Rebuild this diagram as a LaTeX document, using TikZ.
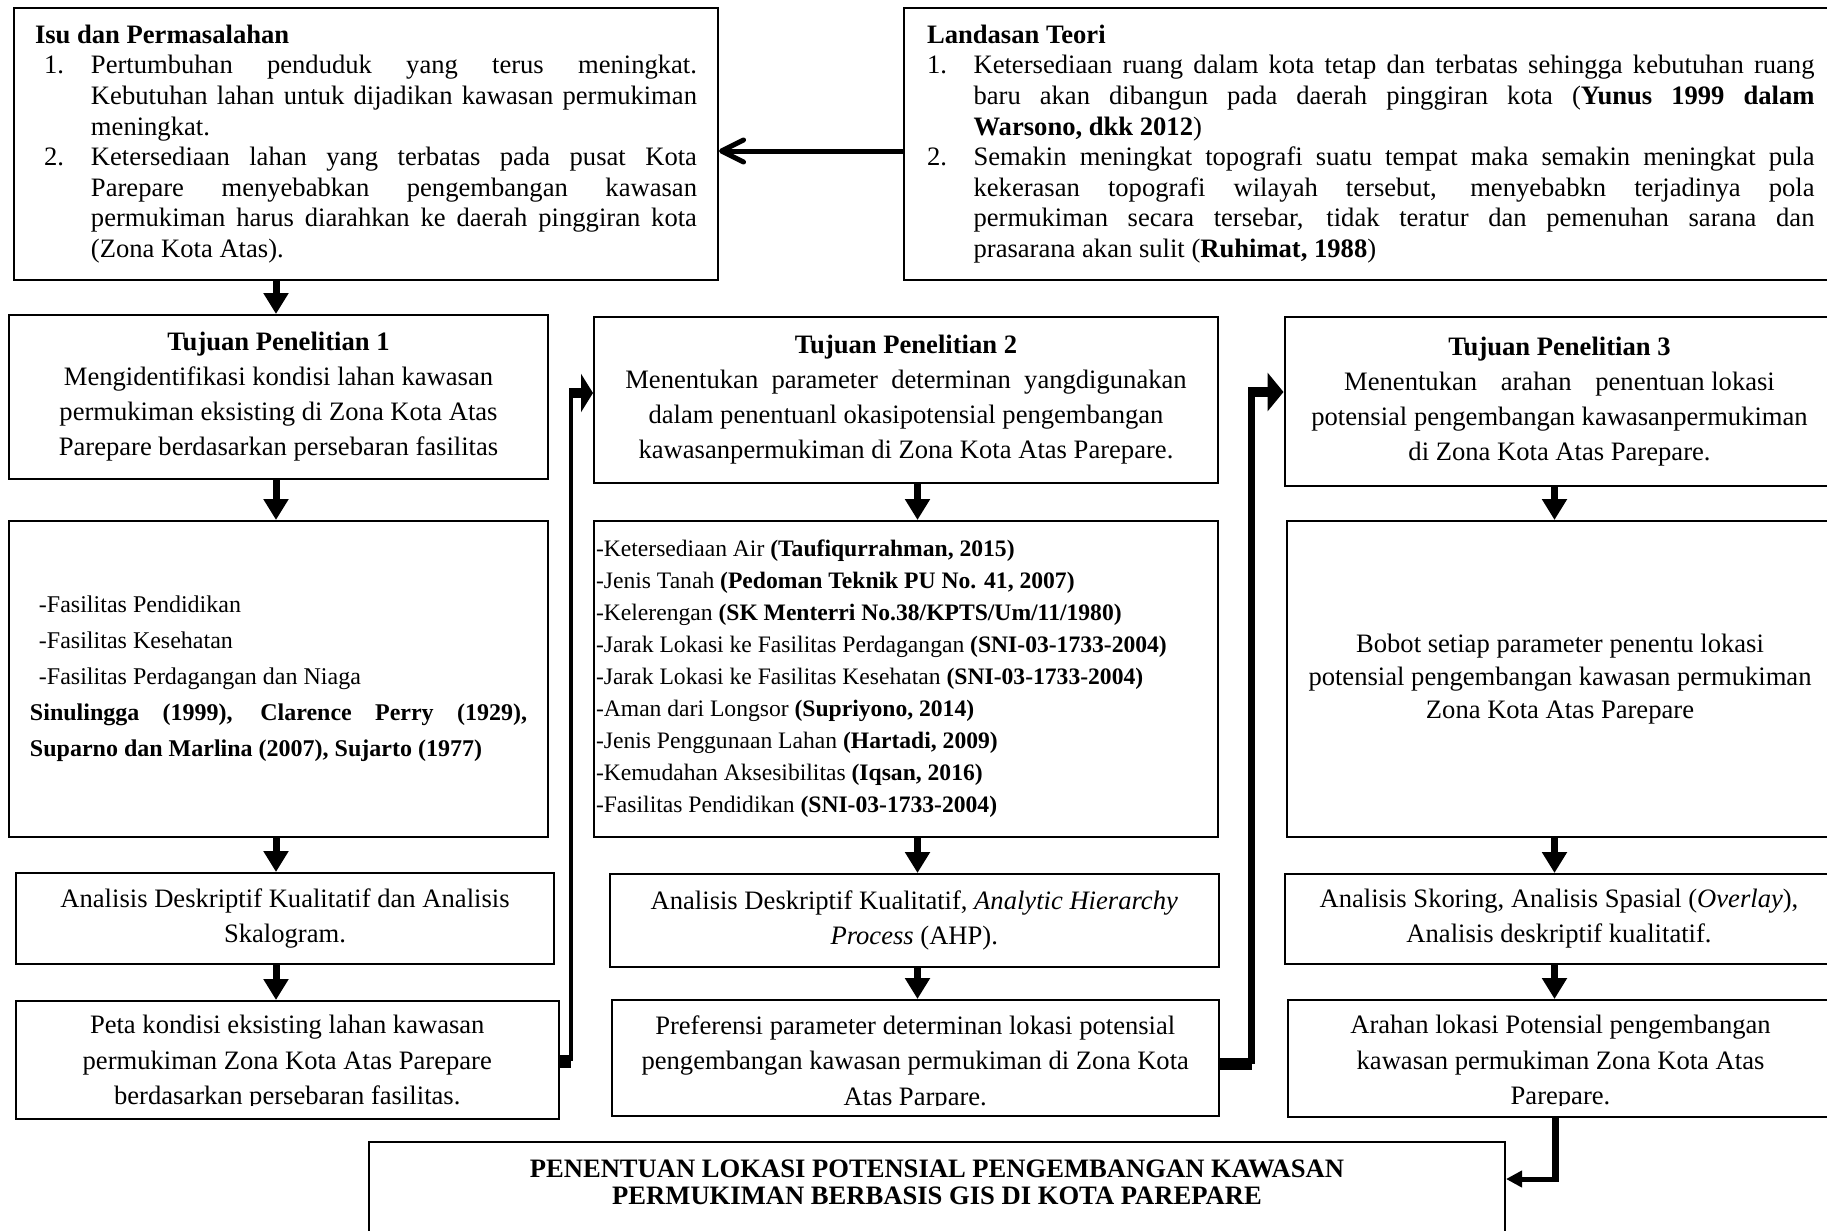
\documentclass[tikz,border=0pt]{standalone}
\usepackage{fontspec}
\setmainfont{Liberation Serif}
\usetikzlibrary{arrows.meta}
\tolerance=10000 \hbadness=10000 \hyphenpenalty=10000 \exhyphenpenalty=10000
\setlength{\parindent}{0pt}
\setlength{\parskip}{0pt}
\newlength{\numind}
\newlength{\numoff}
\newcommand{\numitem}[2]{\par\noindent\hangindent=\numind\hangafter=1\makebox[\numind][l]{\hspace*{\numoff}#1}#2\par}
\newcommand{\fbody}{\fontsize{13.3pt}{17.5pt}\selectfont}
\newcommand{\fres}{\fontsize{13.3pt}{17.75pt}\selectfont}
\newcommand{\flist}{\fontsize{13.3pt}{15.3pt}\selectfont}
\newcommand{\ffas}{\fontsize{12pt}{18pt}\selectfont}
\newcommand{\fpar}{\fontsize{11.8pt}{16pt}\selectfont}
\newcommand{\fbbt}{\fontsize{13.3pt}{16.5pt}\selectfont}
\newcommand{\ffin}{\fontsize{13.3pt}{13.5pt}\selectfont}
\tikzset{
  box/.style={draw,line width=1pt,inner sep=0pt,anchor=north west,font=\fbody},
  cbox/.style={box,align=center},
  jbox/.style={box,align=justify},
  blk/.style={line width=3.5pt,-{Triangle[length=10.5pt,width=12pt]}},
  elb/.style={line width=5pt,-{Triangle[length=7pt,width=19pt]}},
}

\begin{document}
\begin{tikzpicture}[x=0.5pt,y=-0.5pt]
\useasboundingbox (0,0) rectangle (1827,1231);
% top row
\node[jbox,minimum width=352pt,minimum height=136pt,text width=331pt,inner xsep=10.5pt,font=\flist] (isu) at (13,7) {%
  \setlength{\numind}{28pt}\setlength{\numoff}{4.5pt}%
  \textbf{Isu dan Permasalahan}\par
  \numitem{1.}{Pertumbuhan penduduk yang terus meningkat.\linebreak Kebutuhan lahan untuk dijadikan kawasan permukiman\linebreak meningkat.}
  \numitem{2.}{Ketersediaan lahan yang terbatas pada pusat Kota\linebreak Parepare menyebabkan pengembangan kawasan\linebreak permukiman harus diarahkan ke daerah\ pinggiran kota\linebreak (Zona Kota Atas).}};
\node[jbox,minimum width=466pt,minimum height=136pt,text width=443.75pt,inner xsep=11.5pt,font=\flist] (lnd) at (903,7) {%
  \setlength{\numind}{23.3pt}\setlength{\numoff}{0pt}%
  \textbf{Landasan Teori}\par
  \numitem{1.}{Ketersediaan ruang dalam kota tetap dan terbatas sehingga kebutuhan ruang\linebreak baru akan dibangun pada daerah pinggiran kota (\textbf{Yunus 1999 dalam\linebreak Warsono, dkk 2012})}
  \numitem{2.}{Semakin meningkat topografi suatu tempat maka semakin meningkat pula\linebreak kekerasan topografi wilayah tersebut, menyebabkn terjadinya pola\linebreak permukiman secara tersebar, tidak teratur dan pemenuhan sarana dan\linebreak prasarana akan sulit (\textbf{Ruhimat, 1988})}};
% tujuan penelitian
\node[cbox,minimum width=269.5pt,minimum height=81.75pt] (tp1) at (8,314)
  {\textbf{Tujuan Penelitian 1}\\Mengidentifikasi kondisi lahan kawasan\\permukiman eksisting di Zona Kota Atas\\Parepare berdasarkan persebaran fasilitas};
\node[cbox,minimum width=312pt,minimum height=83pt] (tp2) at (593,316)
  {\textbf{Tujuan Penelitian 2}\\Menentukan\ \ parameter\ \ determinan\ \ yangdigunakan\\dalam penentuanl okasipotensial pengembangan\\kawasanpermukiman di Zona Kota Atas Parepare.};
\node[cbox,minimum width=275pt,minimum height=84.5pt] (tp3) at (1283.5,316)
  {\textbf{Tujuan Penelitian 3}\\Menentukan\hspace{8.5pt} arahan\hspace{8.5pt} penentuan lokasi\\potensial pengembangan kawasanpermukiman\\di Zona Kota Atas Parepare.};
% variabel
\node[jbox,minimum width=269.5pt,minimum height=158pt,text width=248.5pt,inner xsep=10.5pt,font=\ffas] (fas) at (8,520) {%
  \hspace*{4.5pt}-Fasilitas Pendidikan\par
  \hspace*{4.5pt}-Fasilitas Kesehatan\par
  \hspace*{4.5pt}-Fasilitas Perdagangan dan Niaga\par
  \textbf{Sinulingga (1999), Clarence Perry (1929),\linebreak Suparno dan Marlina (2007), Sujarto (1977)}\par};
\node[box,minimum width=312pt,minimum height=158pt,text width=310pt,inner xsep=1pt,align=flush left,font=\fpar] (par) at (593,520) {%
  -Ketersediaan Air \textbf{(Taufiqurrahman, 2015)}\\
  -Jenis Tanah \textbf{(Pedoman Teknik PU No. 41, 2007)}\\
  -Kelerengan \textbf{(SK Menterri No.38/KPTS/Um/11/1980)}\\
  -Jarak Lokasi ke Fasilitas Perdagangan \textbf{(SNI-03-1733-2004)}\\
  -Jarak Lokasi ke Fasilitas Kesehatan \textbf{(SNI-03-1733-2004)}\\
  -Aman dari Longsor \textbf{(Supriyono, 2014)}\\
  -Jenis Penggunaan Lahan \textbf{(Hartadi, 2009)}\\
  -Kemudahan Aksesibilitas \textbf{(Iqsan, 2016)}\\
  -Fasilitas Pendidikan \textbf{(SNI-03-1733-2004)}};
\node[cbox,minimum width=273pt,minimum height=158pt,font=\fbbt] (bbt) at (1286,520)
  {Bobot setiap parameter penentu lokasi\\potensial pengembangan kawasan permukiman\\Zona Kota Atas Parepare};
% analisis
\node[cbox,minimum width=269pt,minimum height=45.5pt] (ana1) at (15,872)
  {Analisis Deskriptif Kualitatif dan Analisis\\Skalogram.};
\node[cbox,minimum width=304.25pt,minimum height=46.5pt] (ana2) at (609,873)
  {Analisis Deskriptif Kualitatif, \textit{Analytic Hierarchy}\\\textit{Process} (AHP).};
\node[cbox,minimum width=274pt,minimum height=45pt] (ana3) at (1284,873)
  {Analisis Skoring, Analisis Spasial (\textit{Overlay}),\\Analisis deskriptif kualitatif.};
% hasil
\node[box,minimum width=271.25pt,minimum height=59pt] (res1) at (15,1000) {};
\node[box,minimum width=303.25pt,minimum height=58pt] (res2) at (611,999) {};
\node[box,minimum width=272.5pt,minimum height=58.5pt] (res3) at (1287,999) {};
\begin{scope}
  \clip (res1.north west) rectangle (res1.east |- 0,1105);
  \node[align=center,font=\fres] (res1t) at (res1 |- 0,1063)
    {Peta kondisi eksisting lahan kawasan\\permukiman Zona Kota Atas Parepare\\berdasarkan persebaran fasilitas.};
\end{scope}
\begin{scope}
  \clip (res2.north west) rectangle (res2.east |- 0,1105);
  \node[align=center,font=\fres] (res2t) at (res2 |- 0,1063)
    {Preferensi parameter determinan lokasi potensial\\pengembangan kawasan permukiman di Zona Kota\\Atas Parpare.};
\end{scope}
\begin{scope}
  \clip (res3.north west) rectangle (res3.east |- 0,1105);
  \node[align=center,font=\fres] (res3t) at (res3 |- 0,1063)
    {Arahan lokasi Potensial pengembangan\\kawasan permukiman Zona Kota Atas\\Parepare.};
\end{scope}
% kesimpulan
\node[box,minimum width=568pt,minimum height=52pt] (fin) at (368,1141) {};
\node[align=center,font=\ffin\bfseries] (fintxt) at (fin.north |- 0,1182)
  {PENENTUAN LOKASI POTENSIAL PENGEMBANGAN KAWASAN\\PERMUKIMAN BERBASIS GIS DI KOTA PAREPARE};
% vertical arrows
\coordinate (colA) at (276,0);
\coordinate (colB) at (917.5,0);
\coordinate (colC) at (1554.5,0);
\draw[blk] (colA |- isu.south) -- (colA |- tp1.north);
\draw[blk] (colA |- tp1.south) -- (colA |- fas.north);
\draw[blk] (colA |- fas.south) -- (colA |- ana1.north);
\draw[blk] (colA |- ana1.south) -- (colA |- res1.north);
\draw[blk] (colB |- tp2.south) -- (colB |- par.north);
\draw[blk] (colB |- par.south) -- (colB |- ana2.north);
\draw[blk] (colB |- ana2.south) -- (colB |- res2.north);
\draw[blk] (colC |- tp3.south) -- (colC |- bbt.north);
\draw[blk] (colC |- bbt.south) -- (colC |- ana3.north);
\draw[blk] (colC |- ana3.south) -- (colC |- res3.north);
% landasan -> isu
\coordinate (ja) at (810,151);
\draw[line width=2.5pt,-{Straight Barb[length=11pt,width=11pt,round]}] (lnd.west |- ja) -- (isu.east |- ja);
% elbow connectors
\coordinate (j1b) at (571,1061);
\coordinate (j1t) at (571,393);
\draw[line width=6.5pt] (res1.east |- j1b) -- (j1b);
\draw[line width=2pt] (j1b) -- (j1t);
\draw[elb,-{Triangle[length=6pt,width=19pt]}] ([xshift=-1pt]j1t) -- (tp2.west |- j1t);
\coordinate (j2b) at (1251.5,1064);
\coordinate (j2t) at (1251.5,392);
\draw[line width=6pt] (res2.east |- j2b) -- (j2b);
\draw[line width=3.5pt] (j2b) -- (j2t);
\draw[elb,-{Triangle[length=8pt,width=19pt]}] ([xshift=-1.75pt]j2t) -- (tp3.west |- j2t);
\coordinate (j3) at (1555,1179);
\draw[line width=3.5pt] (j3 |- res3.south) -- ([yshift=-1.25pt]j3);
\draw[line width=2.5pt,-{Triangle[length=8pt,width=8pt]}] ([xshift=1.75pt]j3) -- (fin.east |- j3);
\end{tikzpicture}
\end{document}
